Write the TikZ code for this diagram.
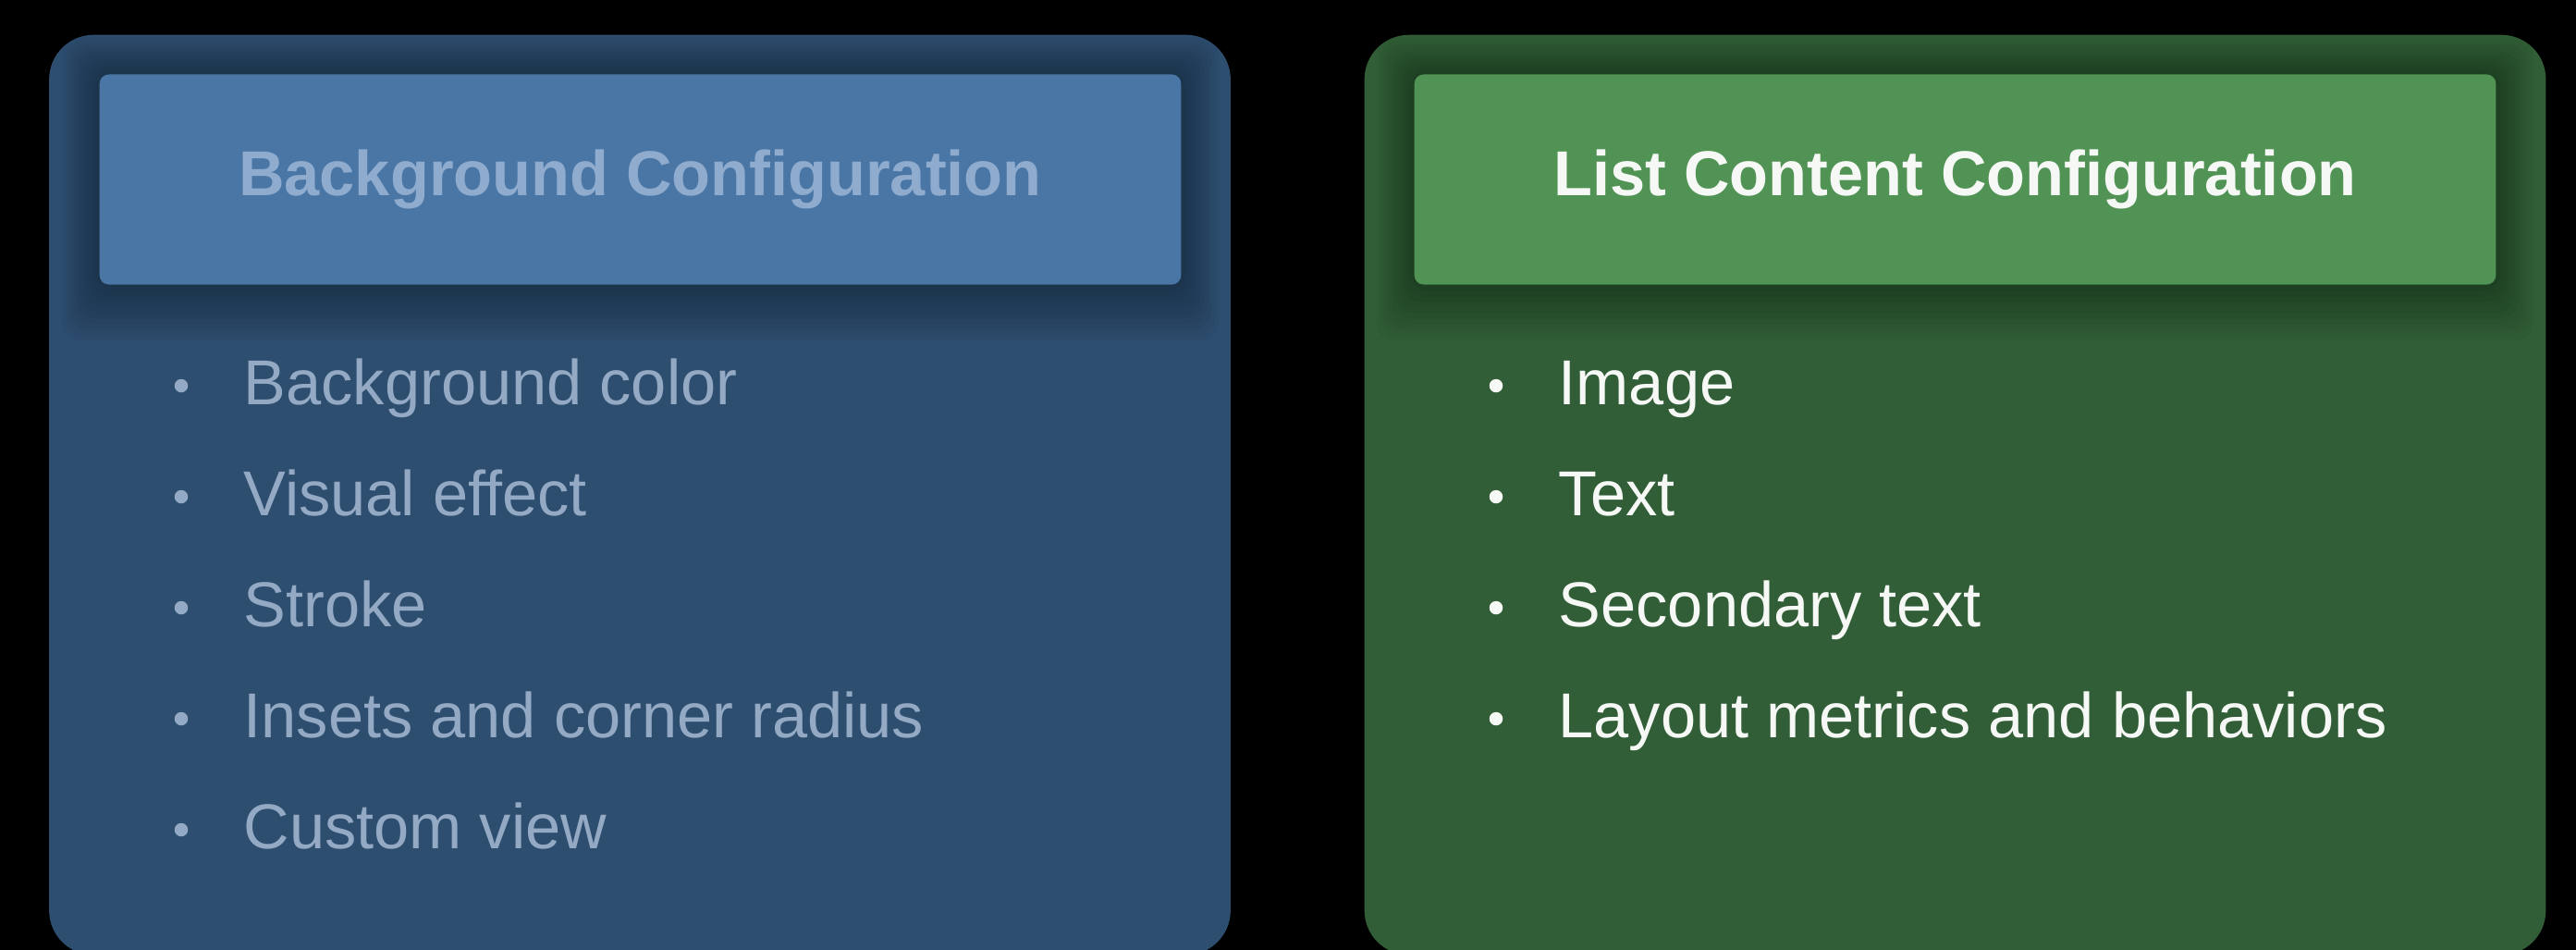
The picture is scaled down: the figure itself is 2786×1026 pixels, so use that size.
\documentclass[tikz,border=0pt]{standalone}
\usepackage{fontspec}
\setmainfont{Liberation Sans}
\usepackage{tikz}
\usetikzlibrary{positioning}
\usetikzlibrary{backgrounds}
\definecolor{bgpanel}{RGB}{46,78,112}
\definecolor{bghead}{RGB}{74,118,166}
\definecolor{bgtitle}{RGB}{143,172,206}
\definecolor{bgtext}{RGB}{148,170,196}
\definecolor{lcpanel}{RGB}{49,94,54}
\definecolor{lchead}{RGB}{80,147,84}
\definecolor{lctext}{RGB}{246,248,246}
\tikzstyle{panel}=[rectangle,rounded corners=0.48cm,inner sep=0mm,minimum width=12.77cm,minimum height=9.94cm]
\tikzstyle{header}=[rectangle,rounded corners=0.1cm,inner sep=0mm,minimum width=11.69cm,minimum height=2.27cm,font=\fontsize{19.5pt}{23pt}\selectfont\bfseries]
\tikzstyle{item}=[anchor=base west,inner sep=0mm,font=\fontsize{19.5pt}{23pt}\selectfont]
\tikzstyle{bulletdot}=[circle,inner sep=0mm,minimum size=0.145cm]
\tikzstyle{softshadow}=[black,opacity=0.03,rounded corners=0.2cm]

\begin{document}
\begin{tikzpicture}[x=0.01cm,y=-0.01cm]
    \useasboundingbox (0,0) rectangle (2786,1026);
    % left panel
    \node[header,fill=bghead,text=bgtitle] at (692.5,194) (bghead) {Background Configuration};
    \begin{scope}[on background layer]
      \fill[black] (-20,-20) rectangle (2806,1046);
      \node[panel,fill=bgpanel] at (692,535) (bgpanel) {};
      \foreach \s in {1,...,10}
        \fill[softshadow] ([shift={(-\s*4,-\s*4)}]bghead.north west) rectangle ([shift={(\s*4,\s*6)}]bghead.south east);
    \end{scope}
    \foreach \txt [count=\i] in {Background color,Visual effect,Stroke,Insets and corner radius,Custom view} {
      \node[bulletdot,fill=bgtext] at (196,297+120*\i) (bgdot\i) {};
      \node[item,text=bgtext] at (263,317+120*\i) (bgitem\i) {\txt};
    }
    % right panel
    \node[header,fill=lchead,text=lctext] at (2114.5,194) (lchead) {List Content Configuration};
    \begin{scope}[on background layer]
      \node[panel,fill=lcpanel] at (2114.5,535) (lcpanel) {};
      \foreach \s in {1,...,10}
        \fill[softshadow] ([shift={(-\s*4,-\s*4)}]lchead.north west) rectangle ([shift={(\s*4,\s*6)}]lchead.south east);
    \end{scope}
    \foreach \txt [count=\i] in {Image,Text,Secondary text,Layout metrics and behaviors} {
      \node[bulletdot,fill=lctext] at (1618,297+120*\i) (lcdot\i) {};
      \node[item,text=lctext] at (1685,317+120*\i) (lcitem\i) {\txt};
    }
\end{tikzpicture}
\end{document}
